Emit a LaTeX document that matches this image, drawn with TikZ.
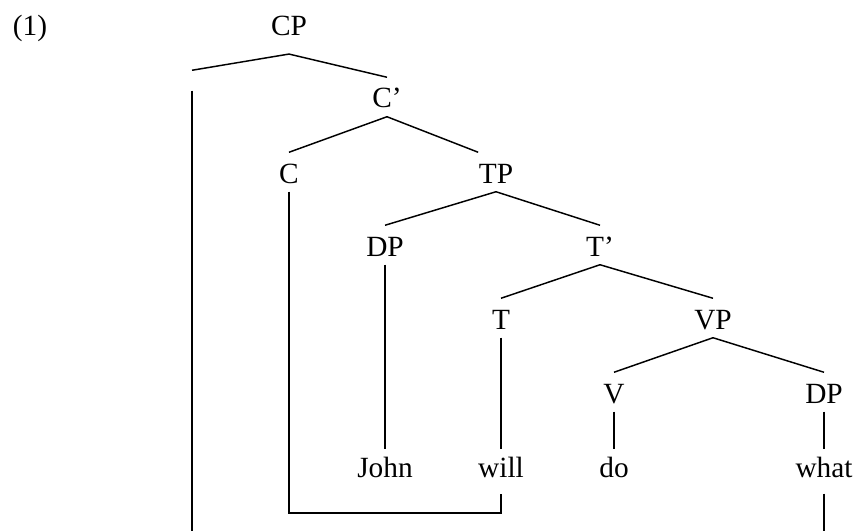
\documentclass[tikz,border=0pt]{standalone}
\usepackage{fontspec}
\setmainfont{Liberation Serif}
\begin{document}
\begin{tikzpicture}[x=0.75pt,y=-0.75pt,line width=1.1pt,
  cat/.style={anchor=base,inner xsep=0pt,inner ysep=6pt,text height=16.5pt,text depth=0pt,font=\fontsize{22}{26}\selectfont},
  word/.style={cat,text height=14.6pt,text depth=6pt},
  gap/.style={inner sep=0pt,minimum height=14.25pt}]
\useasboundingbox (0,0) rectangle (855,531);

\node[cat] (ex) at (30,36) {(1)};
\node[cat,text depth=7pt] (CP) at (289,36) {CP};
\node[gap] (spec) at (192,80.5) {};
\node[cat] (Cbar) at (387,108) {C’};
\node[cat] (C) at (289,183) {C};
\node[cat] (TP) at (496,183) {TP};
\node[cat] (DPa) at (385,256) {DP};
\node[cat] (Tbar) at (600,256) {T’};
\node[cat] (T) at (501,329) {T};
\node[cat] (VP) at (713,329) {VP};
\node[cat] (V) at (614,403) {V};
\node[cat] (DPb) at (824,403) {DP};
\node[word] (John) at (385,477) {John};
\node[word] (will) at (501,477) {will};
\node[word] (do) at (614,477) {do};
\node[word] (what) at (824,477) {what};
\coordinate (low) at (400,513);
\coordinate (trA) at (192,531);
\coordinate (trB) at (824,531);

\foreach \p/\c in {CP/spec,CP/Cbar,Cbar/C,TP/DPa,TP/Tbar,DPa/John,Tbar/T,Tbar/VP,T/will,VP/V,VP/DPb,V/do,DPb/what}
  \draw (\p.south) -- (\c.north);
\draw (Cbar.south) -- (TP.north west);
% movement lines
\draw (spec.south) -- (trA);
\draw (what.south) -- (trB);
\draw (C.south) |- (low) -| (will.south);
\end{tikzpicture}
\end{document}
